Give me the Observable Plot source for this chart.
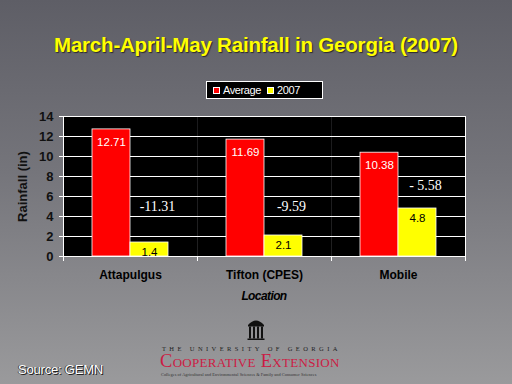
<!DOCTYPE html>
<html>
<head>
<meta charset="utf-8">
<script src="https://cdn.jsdelivr.net/npm/d3@7"></script>
<script src="https://cdn.jsdelivr.net/npm/@observablehq/plot@0.6"></script>
<style>
  html, body { margin: 0; padding: 0; }
  #page {
    position: relative; width: 512px; height: 384px; overflow: hidden;
    background: linear-gradient(to bottom, #5e5e66 0%, #75757b 45%, #9a9a9c 100%);
    font-family: "Liberation Sans", Arial, sans-serif;
  }
  #title {
    position: absolute; left: 0; width: 512px; top: 33px; text-align: center;
    color: #ffff00; font-weight: bold; font-size: 20.5px; letter-spacing: -0.2px;
    text-shadow: 1px 1px 1px #2a2a2a;
  }
  #legend {
    position: absolute; left: 206px; top: 81px; width: 115px; height: 16px;
    background: #000; border: 1px solid #fff; color: #fff; font-size: 11px;
    display: flex; align-items: center; letter-spacing: -0.4px;
  }
  #legend .sw { display: inline-block; width: 7px; height: 7px; margin: 0 3px 0 6px; border: 1px solid #fff; box-sizing: border-box; }
  #chart { position: absolute; left: 0; top: 100px; }
  #xlabel {
    position: absolute; left: 63px; width: 402px; top: 289px; text-align: center;
    font-weight: bold; font-style: italic; font-size: 12px; color: #000; letter-spacing: -0.6px;
  }
  #source {
    position: absolute; left: 18px; top: 362px; color: #fff; font-size: 13px;
    text-shadow: 1px 1px 0 #222, -1px 0 0 #444; letter-spacing: -0.2px;
  }
  .logo { position: absolute; font-family: "Liberation Serif", "DejaVu Serif", serif; white-space: nowrap; }
  #arch { left: 247px; top: 316px; }
  #u { left: 162px; top: 345px; height: 8px; font-size: 6.5px; letter-spacing: 3.4px; color: #222; line-height: 8px; }
  #c { left: 160px; top: 354px; height: 15px; font-size: 18.5px; color: #cc1c44; font-variant: small-caps; letter-spacing: 0.3px; line-height: 14px; }
  #s { left: 161px; top: 372px; height: 6px; font-size: 4.3px; color: #333; letter-spacing: 0.05px; line-height: 6px; }
</style>
</head>
<body>
<div id="page">
  <div id="title">March-April-May Rainfall in Georgia (2007)</div>
  <div id="legend"><span class="sw" style="background:#ff0000"></span>Average<span class="sw" style="background:#ffff00"></span>2007</div>
  <div id="chart"></div>
  <div id="xlabel">Location</div>
  <svg id="arch" class="logo" width="18" height="25" viewBox="0 0 18 25">
    <path d="M1 9 Q9 0 17 9 Z M1 9 H17 V10.5 H1 Z" fill="#111"/>
    <rect x="2" y="10.5" width="2" height="12" fill="#111"/>
    <rect x="6" y="10.5" width="2" height="12" fill="#111"/>
    <rect x="10" y="10.5" width="2" height="12" fill="#111"/>
    <rect x="14" y="10.5" width="2" height="12" fill="#111"/>
    <rect x="0.5" y="22.5" width="17" height="1.5" fill="#111"/>
  </svg>
  <div id="u" class="logo">THE UNIVERSITY OF GEORGIA</div>
  <div id="c" class="logo">Cooperative Extension</div>
  <div id="s" class="logo">Colleges of Agricultural and Environmental Sciences &amp; Family and Consumer Sciences</div>
  <div id="source">Source: GEMN</div>
</div>
<script>
// ---- data ----
const locations = ["Attapulgus", "Tifton (CPES)", "Mobile"];
const series = ["Average", "2007"];
const averageValues = [12.71, 11.69, 10.38];
const values2007 = [1.4, 2.1, 4.8];
const averageLabels = ["12.71", "11.69", "10.38"];
const labels2007 = ["1.4", "2.1", "4.8"];
const diffLabels = ["-11.31", "-9.59", "- 5.58"];
const diffLabelAt = [5, 5, 7.1];
const yTicks = [0, 2, 4, 6, 8, 10, 12, 14];
const seriesColors = ["#ff0000", "#ffff00"];

const rows = [];
locations.forEach((loc, i) => {
  rows.push({location: loc, series: "Average", value: averageValues[i], label: averageLabels[i]});
  rows.push({location: loc, series: "2007", value: values2007[i], label: labels2007[i]});
});
const avgRows = rows.filter(d => d.series === "Average");
const newRows = rows.filter(d => d.series === "2007");
const diffRows = locations.map((loc, i) => ({location: loc, series: "2007", at: diffLabelAt[i], text: diffLabels[i]}));

const chart = Plot.plot({
  width: 512,
  height: 210,
  marginLeft: 63,
  marginRight: 47,
  marginTop: 16,
  marginBottom: 54,
  style: {background: "transparent", fontFamily: "Liberation Sans, Arial, sans-serif"},
  fx: {domain: locations, padding: 0, axis: null, label: null},
  x: {domain: series, paddingInner: 0, paddingOuter: 0.76, axis: null},
  y: {domain: [0, 14], axis: null},
  color: {domain: series, range: seriesColors},
  marks: [
    Plot.frame({fill: "black"}),
    Plot.ruleY(yTicks.filter(t => t > 0), {stroke: "white", strokeWidth: 1}),
    Plot.barY(rows, {fx: "location", x: "series", y: "value", fill: "series", stroke: "white", strokeWidth: 0.8}),
    Plot.ruleY([0], {stroke: "white", strokeWidth: 1.2}),
    Plot.frame({anchor: "left", stroke: "white", facetAnchor: "left"}),
    Plot.frame({anchor: "right", stroke: "white", facetAnchor: "right"}),
    Plot.frame({anchor: "left", stroke: "white", insetTop: 140, insetBottom: -4}),
    Plot.frame({anchor: "right", stroke: "white", insetTop: 140, insetBottom: -4}),
    Plot.text(avgRows, {fx: "location", x: "series", y: "value", text: "label", fill: "white", dy: 13, fontSize: 11.5}),
    Plot.text(newRows, {fx: "location", x: "series", y: "value", text: "label", fill: "black", dy: 10, fontSize: 11.5}),
    Plot.text(diffRows, {fx: "location", x: "series", y: "at", text: "text", fill: "white", dx: 8, fontSize: 14, fontFamily: "Liberation Serif, Times New Roman, serif"}),
    Plot.axisY({ticks: yTicks, tickSize: 4, stroke: "white", fill: "#111", fontSize: 13, fontWeight: "bold",
      tickPadding: 6, label: "Rainfall (in)", labelAnchor: "center", labelArrow: "none", labelOffset: 46}),
    Plot.axisFx({anchor: "bottom", tickSize: 0, tickPadding: 14, fill: "#000", fontSize: 12, fontWeight: "bold", label: null, letterSpacing: -0.6})
  ]
});
document.getElementById("chart").appendChild(chart);
</script>
</body>
</html>
